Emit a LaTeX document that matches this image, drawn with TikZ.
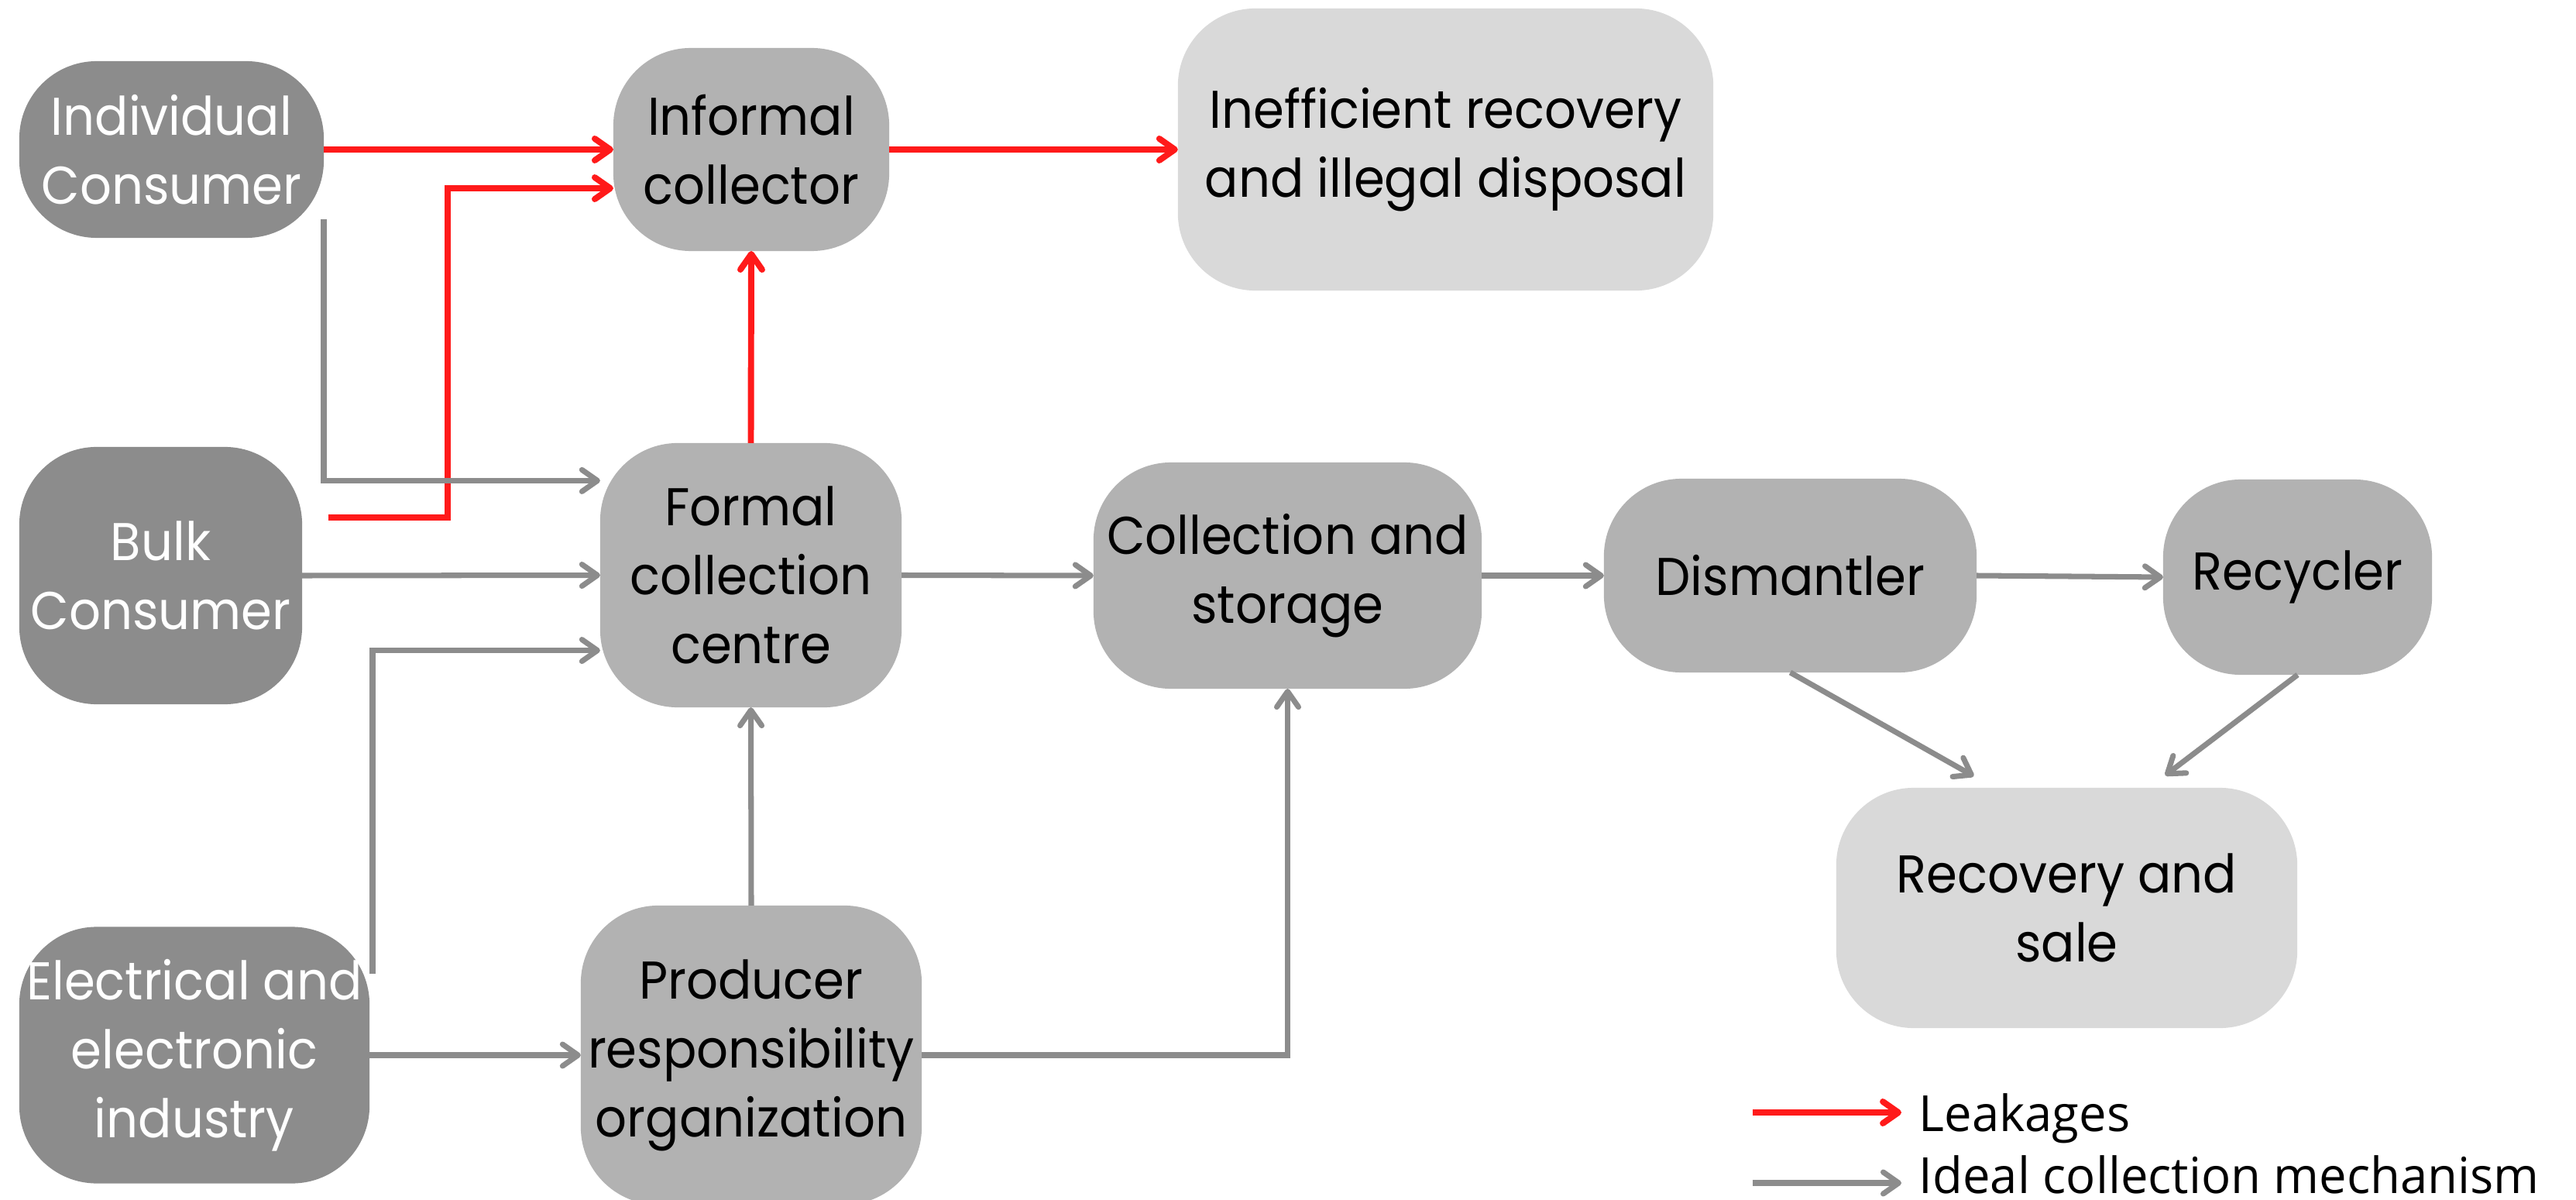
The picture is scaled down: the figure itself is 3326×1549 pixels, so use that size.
\documentclass[tikz,border=0pt]{standalone}
\usepackage{fontspec}
\setmainfont[FakeStretch=0.935]{Poppins}
\newfontfamily\legendfont[FakeStretch=0.985]{Open Sans}
\usepackage{tikz}
\usetikzlibrary{arrows.meta,positioning}
\definecolor{darkbox}{HTML}{8C8C8C}
\definecolor{midbox}{HTML}{B2B2B2}
\definecolor{lightbox}{HTML}{D9D9D9}
\definecolor{leakred}{HTML}{FF1A1A}
\definecolor{flowgray}{HTML}{8C8C8C}
\tikzset{
    every node/.style={font=\fontsize{19.5}{25.3}\selectfont},
    box/.style={rounded corners=1cm, inner sep=0, outer sep=0, align=center},
    source/.style={box, fill=darkbox, text=white},
    stage/.style={box, fill=midbox},
    sink/.style={box, fill=lightbox},
    leak/.style={line width=2.25pt, leakred, -{Straight Barb[length=2mm,width=2.8mm,round]}},
    flow/.style={line width=2pt, flowgray, -{Straight Barb[length=2mm,width=2.8mm,round]}},
    legend/.style={anchor=base west, inner xsep=.22cm, inner ysep=0, font=\legendfont\fontsize{18.3}{22}\selectfont},
}
\begin{document}
\begin{tikzpicture}[x=0.01cm, y=-0.01cm]
    \useasboundingbox (0,0) rectangle (3326,1549);

    % sources
    \node[source, minimum width=3.93cm, minimum height=2.28cm] (indiv) at (221.5,193) {Individual\\Consumer};
    \node[source, minimum width=3.65cm, minimum height=3.32cm] (bulk) at (207.5,743) {Bulk\\Consumer};
    \node[source, minimum width=4.52cm, minimum height=3.31cm] (elec) at (251,1362) {Electrical and\\electronic\\industry};

    % collectors
    \node[stage, minimum width=3.56cm, minimum height=2.62cm] (informal) at (970,193) {Informal\\collector};
    \node[stage, minimum width=3.89cm, minimum height=3.41cm] (formal) at (969.5,742.5) {Formal\\collection\\centre};
    \node[stage, minimum width=4.40cm, minimum height=3.86cm] (pro) at (970,1362) {Producer\\responsibility\\organization};
    \node[stage, minimum width=5.01cm, minimum height=2.92cm] (storage) at (1662.5,743) {Collection and\\storage};
    \node[stage, minimum width=4.81cm, minimum height=2.50cm] (dism) at (2311.5,743) {Dismantler};
    \node[stage, minimum width=3.47cm, minimum height=2.52cm] (recyc) at (2966.5,745) {Recycler};

    % end points
    \node[sink, minimum width=6.91cm, minimum height=3.64cm] (ineff) at (1866.5,193) {Inefficient recovery\\and illegal disposal};
    \node[sink, minimum width=5.95cm, minimum height=3.10cm] (recov) at (2668.5,1172) {Recovery and\\sale};

    \coordinate (indivout) at (418,283);
    \coordinate (bulkout) at (424,668);
    \coordinate (elecout) at (481,1257);

    % leakages
    \draw[leak] (indiv.east) -- (informal.west);
    \draw[leak] (bulkout) -- ++(154,0) |- ([yshift=-.5cm]informal.west);
    \draw[leak] (formal.north) -- (informal.south);
    \draw[leak] (informal.east) -- (ineff.west);

    % ideal route
    \draw[flow] (indivout) |- ([yshift=1.22cm]formal.west);
    \draw[flow] (bulk.east) -- (formal.west);
    \draw[flow] (elecout) |- ([yshift=-.97cm]formal.west);
    \draw[flow] (elec.east) -- (pro.west);
    \draw[flow] (pro.north) -- (formal.south);
    \draw[flow] (pro.east) -| (storage.south);
    \draw[flow] (formal.east) -- (storage.west);
    \draw[flow] (storage.east) -- (dism.west);
    \draw[flow] (dism.east) -- (recyc.west);
    \draw[flow] (dism.south) -- ([xshift=-1.2cm,yshift=.15cm]recov.north);
    \draw[flow] (recyc.south) -- ([xshift=1.27cm,yshift=.16cm]recov.north);

    % legend
    \coordinate (leakfrom) at (2263,1436);
    \coordinate (flowfrom) at (2263,1527);
    \node[legend] (leaklbl) at (2455,1460) {Leakages};
    \node[legend] (flowlbl) at (2455,1540) {Ideal collection mechanism};
    \draw[leak] (leakfrom) -- (leakfrom -| leaklbl.west);
    \draw[flow] (flowfrom) -- (flowfrom -| flowlbl.west);
\end{tikzpicture}
\end{document}
